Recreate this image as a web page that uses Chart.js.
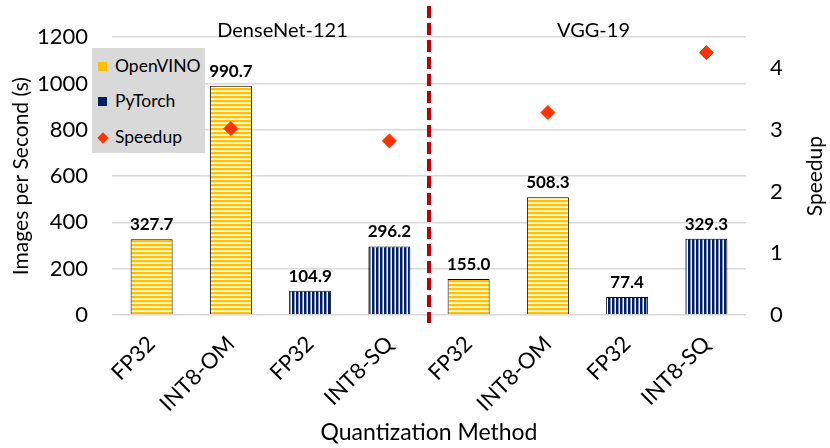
<!DOCTYPE html>
<html lang="en">
  <head>
    <meta charset="UTF-8" />
    <title>Quantization Method</title>
    <script src="https://cdn.jsdelivr.net/npm/chart.js"></script>
    <style>
      body { margin: 0; background: #fff; }
      #wrap { position: relative; width: 830px; height: 448px; }
      #legend {
        position: absolute; left: 92px; top: 48px; width: 113px; height: 105px;
        background: #d9d9d9; font-family: Lato, sans-serif; font-size: 17.5px; color: #000;
      }
      #legend div { position: absolute; left: 6px; height: 20px; line-height: 20px; }
      #legend span.sw { display: inline-block; width: 9px; height: 9px; margin-right: 8px; vertical-align: 1px; }
      #legend span.dm { display: inline-block; width: 8px; height: 8px; margin: 0 8px 0 1px; transform: rotate(45deg); background: #ff3300; vertical-align: 1px; }
    </style>
  </head>
  <body>
    <div id="wrap">
      <canvas id="chart" width="830" height="448"></canvas>
      <div id="legend">
        <div style="top: 8px"><span class="sw" style="background:#ffc000"></span>OpenVINO</div>
        <div style="top: 43px"><span class="sw" style="background:#002060"></span>PyTorch</div>
        <div style="top: 79px"><span class="dm"></span>Speedup</div>
      </div>
    </div>
    <script>
      const categories = ["FP32", "INT8-OM", "FP32", "INT8-SQ", "FP32", "INT8-OM", "FP32", "INT8-SQ"];
      const groups = ["DenseNet-121", "VGG-19"];
      const openvino = [327.7, 990.7, null, null, 155.0, 508.3, null, null];
      const pytorch = [null, null, 104.9, 296.2, null, null, 77.4, 329.3];
      const speedup = [null, 3.02, null, 2.82, null, 3.28, null, 4.25];
      const leftTicks = [0, 200, 400, 600, 800, 1000, 1200];
      const rightTicks = [0, 1, 2, 3, 4];

      const FONT = "Lato, sans-serif";

      function stripes(color, vertical) {
        const c = document.createElement("canvas");
        c.width = 4;
        c.height = 4;
        const g = c.getContext("2d");
        g.fillStyle = "#fff";
        g.fillRect(0, 0, 4, 4);
        g.fillStyle = color;
        if (vertical) g.fillRect(0, 0, 2.5, 4);
        else g.fillRect(0, 0, 4, 2.3);
        return document.getElementById("chart").getContext("2d").createPattern(c, "repeat");
      }

      const extras = {
        id: "extras",
        afterDatasetsDraw(chart) {
          const ctx = chart.ctx;
          const x = chart.scales.x;
          const area = chart.chartArea;
          const midY = (area.top + area.bottom) / 2;
          ctx.save();
          // value labels
          ctx.font = "bold 17px " + FONT;
          ctx.fillStyle = "#000";
          ctx.textAlign = "center";
          ctx.textBaseline = "bottom";
          [0, 1].forEach((di) => {
            const meta = chart.getDatasetMeta(di);
            meta.data.forEach((bar, i) => {
              const v = chart.data.datasets[di].data[i];
              if (v == null) return;
              ctx.fillText(v.toFixed(1), bar.x, bar.y - 6);
            });
          });
          // group names
          ctx.font = "20px " + FONT;
          ctx.fillText(groups[0], (x.getPixelForValue(1) + x.getPixelForValue(2)) / 2 + 12, area.top + 3);
          ctx.fillText(groups[1], (x.getPixelForValue(5) + x.getPixelForValue(6)) / 2 + 6, area.top + 3);
          // axis titles, both reading upwards
          ctx.textBaseline = "middle";
          ctx.font = "21px " + FONT;
          [["Images per Second (s)", 21], ["Speedup", 815]].forEach(([t, tx]) => {
            ctx.save();
            ctx.translate(tx, midY);
            ctx.rotate(-Math.PI / 2);
            ctx.fillText(t, 0, 0);
            ctx.restore();
          });
          // divider
          const dx = (x.getPixelForValue(3) + x.getPixelForValue(4)) / 2;
          ctx.strokeStyle = "#c00000";
          ctx.lineWidth = 4;
          ctx.setLineDash([12, 5]);
          ctx.beginPath();
          ctx.moveTo(dx, 6);
          ctx.lineTo(dx, area.bottom + 8);
          ctx.stroke();
          ctx.restore();
        },
      };

      new Chart(document.getElementById("chart"), {
        type: "bar",
        data: {
          labels: categories,
          datasets: [
            {
              label: "OpenVINO",
              data: openvino,
              backgroundColor: stripes("#ffc000", false),
              borderColor: "#000",
              borderWidth: 1,
              grouped: false,
              order: 1,
            },
            {
              label: "PyTorch",
              data: pytorch,
              backgroundColor: stripes("#002060", true),
              borderColor: "#000",
              borderWidth: 1,
              grouped: false,
              order: 1,
            },
            {
              type: "line",
              label: "Speedup",
              data: speedup,
              yAxisID: "y1",
              showLine: false,
              pointStyle: "rectRot",
              pointRadius: 7,
              pointBackgroundColor: "#ff3300",
              pointBorderColor: "#ff3300",
              order: 0,
            },
          ],
        },
        options: {
          responsive: false,
          animation: false,
          datasets: { bar: { barPercentage: 0.53, categoryPercentage: 1 } },
          layout: { padding: { top: 25, left: 0, right: 0, bottom: 0 } },
          plugins: { legend: { display: false }, tooltip: { enabled: false } },
          scales: {
            x: {
              grid: { display: false },
              border: { display: false },
              ticks: {
                color: "#000",
                font: { family: FONT, size: 22 },
                minRotation: 45,
                maxRotation: 45,
                padding: 8,
              },
              title: {
                display: true,
                text: "Quantization Method",
                color: "#000",
                font: { family: FONT, size: 23 },
                padding: { top: 0, bottom: 2 },
              },
              afterFit(s) { s.height = 133; },
            },
            y: {
              position: "left",
              min: 0,
              max: 1200,
              afterBuildTicks(s) { s.ticks = leftTicks.map((v) => ({ value: v })); },
              grid: { color: "#d9d9d9", lineWidth: 1.5, drawTicks: false },
              border: { display: false },
              ticks: {
                color: "#000",
                font: { family: FONT, size: 22 },
                padding: 24,
                callback: (v) => String(v),
              },
              afterFit(s) { s.width = 112; },
            },
            y1: {
              position: "right",
              min: 0,
              max: 4.5,
              afterBuildTicks(s) { s.ticks = rightTicks.map((v) => ({ value: v })); },
              grid: { display: false, drawTicks: false },
              border: { display: false },
              ticks: {
                color: "#000",
                font: { family: FONT, size: 22 },
                padding: 24,
                callback: (v) => String(v),
              },
              afterFit(s) { s.width = 84; },
            },
          },
        },
        plugins: [extras],
      });
    </script>
  </body>
</html>
